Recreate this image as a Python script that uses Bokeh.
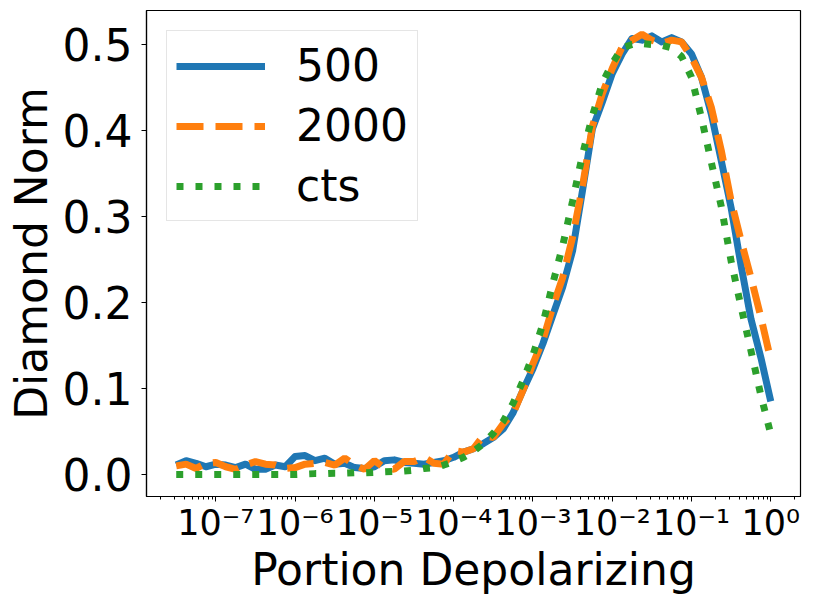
import numpy as np
from bokeh.plotting import figure
from bokeh.models import Range1d, FixedTicker, NumeralTickFormatter, Legend, LegendItem
from bokeh.embed import file_html
from bokeh.resources import INLINE

# sample grid: exponents of "Portion Depolarizing"
exponents = np.linspace(-7.5, 0.0, 61)
x_vals = 10.0 ** exponents

y_500 = [0.011, 0.016, 0.013, 0.009, 0.012, 0.011, 0.008, 0.012, 0.006, 0.006,
         0.011, 0.009, 0.021, 0.022, 0.016, 0.019, 0.012, 0.013, 0.008, 0.007,
         0.009, 0.016, 0.017, 0.014, 0.013, 0.012, 0.014, 0.016, 0.020, 0.026,
         0.030, 0.036, 0.043, 0.053, 0.072, 0.098, 0.123, 0.152, 0.185, 0.218,
         0.260, 0.330, 0.402, 0.433, 0.466, 0.489, 0.507, 0.505, 0.510, 0.503,
         0.508, 0.503, 0.489, 0.462, 0.419, 0.365, 0.310, 0.243, 0.181, 0.136,
         0.085]

y_2000 = [0.010, 0.012, 0.007, 0.013, 0.014, 0.009, 0.006, 0.011, 0.015, 0.012,
          0.011, 0.007, 0.008, 0.012, 0.013, 0.014, 0.011, 0.019, 0.011, 0.006,
          0.016, 0.008, 0.006, 0.015, 0.015, 0.020, 0.013, 0.012, 0.028, 0.026,
          0.030, 0.045, 0.043, 0.059, 0.071, 0.098, 0.129, 0.156, 0.195, 0.229,
          0.276, 0.335, 0.405, 0.443, 0.472, 0.497, 0.505, 0.512, 0.505, 0.501,
          0.505, 0.503, 0.485, 0.462, 0.427, 0.377, 0.318, 0.272, 0.229, 0.183,
          0.133]

y_cts = [0.000, 0.000, 0.000, 0.000, 0.000, 0.000, 0.000, 0.000, 0.000, 0.000,
         0.000, 0.000, 0.000, 0.0005, 0.001, 0.001, 0.0015, 0.0015, 0.002, 0.002,
         0.0025, 0.003, 0.0035, 0.004, 0.005, 0.007, 0.008, 0.011, 0.015, 0.020,
         0.027, 0.036, 0.048, 0.062, 0.083, 0.109, 0.139, 0.175, 0.222, 0.266,
         0.318, 0.372, 0.417, 0.455, 0.478, 0.496, 0.500, 0.501, 0.500, 0.499,
         0.496, 0.486, 0.462, 0.415, 0.363, 0.312, 0.248, 0.195, 0.144, 0.092,
         0.047]

series_labels = ["500", "2000", "cts"]
series_colors = ["#1f77b4", "#ff7f0e", "#2ca02c"]
x_major = [1e-7, 1e-6, 1e-5, 1e-4, 1e-3, 1e-2, 1e-1, 1e0]
x_tick_labels = ["10\u207b\u2077", "10\u207b\u2076", "10\u207b\u2075", "10\u207b\u2074",
                 "10\u207b\u00b3", "10\u207b\u00b2", "10\u207b\u00b9", "10\u2070"]
y_ticks = [0.0, 0.1, 0.2, 0.3, 0.4, 0.5]
x_title = "Portion Depolarizing"
y_title = "Diamond Norm"

x_minor = [m * 10.0 ** k for k in range(-8, 1) for m in range(2, 10)]

FONT = "DejaVu Sans"

p = figure(width=814, height=603, x_axis_type="log",
           x_range=Range1d(10 ** -7.875, 10 ** 0.375),
           y_range=Range1d(-0.0256, 0.5395),
           output_backend="svg", toolbar_location=None,
           min_border_left=146, min_border_right=14,
           min_border_top=10, min_border_bottom=107)

p.xgrid.visible = False
p.ygrid.visible = False
p.outline_line_color = "black"
p.outline_line_width = 1.2
p.outline_line_alpha = 1.0

r1 = p.line(x_vals, y_500, line_color=series_colors[0], line_width=7, line_join="round")
r2 = p.line(x_vals, y_2000, line_color=series_colors[1], line_width=7, line_dash="27 12")
r3 = p.line(x_vals, y_cts, line_color=series_colors[2], line_width=7, line_dash="7 12")

p.xaxis.ticker = FixedTicker(ticks=x_major, minor_ticks=x_minor)
p.xaxis.major_label_overrides = {t: s for t, s in zip(x_major, x_tick_labels)}
p.yaxis.ticker = FixedTicker(ticks=y_ticks)
p.yaxis.formatter = NumeralTickFormatter(format="0.0")

for ax in (p.xaxis[0], p.yaxis[0]):
    ax.axis_line_color = "black"
    ax.axis_line_width = 1.2
    ax.major_tick_line_color = "black"
    ax.minor_tick_line_color = "black"
    ax.major_tick_in = 0
    ax.major_tick_out = 5
    ax.minor_tick_in = 0
    ax.minor_tick_out = 3
    ax.major_label_text_font = FONT
    ax.axis_label_text_font = FONT
    ax.axis_label_text_font_style = "normal"
    ax.axis_label_text_font_size = "44px"
    ax.axis_label_text_color = "black"
    ax.major_label_text_color = "black"

p.yaxis.minor_tick_out = 0
p.xaxis.major_label_text_font_size = "35px"
p.yaxis.major_label_text_font_size = "44px"
p.xaxis.major_label_standoff = 1
p.yaxis.major_label_standoff = 9
p.xaxis.axis_label = x_title
p.yaxis.axis_label = y_title
p.xaxis.axis_label_standoff = -2
p.yaxis.axis_label_standoff = 3

legend = Legend(items=[LegendItem(label=series_labels[0], renderers=[r1]),
                       LegendItem(label=series_labels[1], renderers=[r2]),
                       LegendItem(label=series_labels[2], renderers=[r3])],
                location="top_left")
legend.margin = 20
legend.padding = 9
legend.spacing = 9
legend.glyph_width = 89
legend.glyph_height = 50
legend.label_height = 50
legend.label_standoff = 31
legend.label_text_font = FONT
legend.label_text_font_size = "44px"
legend.label_text_color = "black"
legend.border_line_color = "#cccccc"
legend.border_line_width = 1.5
legend.background_fill_alpha = 0.8
p.add_layout(legend)

open("out.html", "w").write(file_html(p, INLINE))
